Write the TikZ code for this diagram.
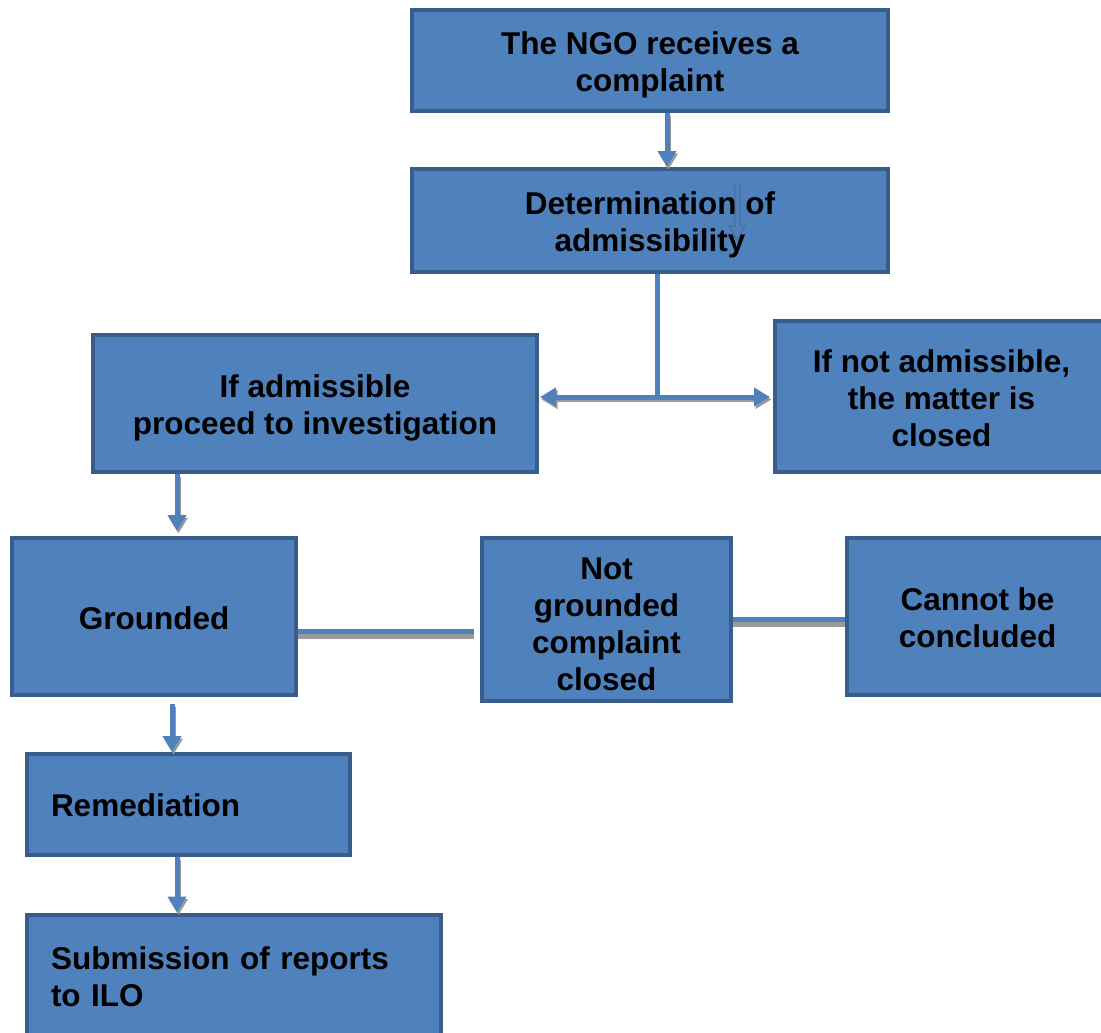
\documentclass[tikz,border=0pt]{standalone}
\usepackage{fontspec}
\setmainfont{Liberation Sans}
\usetikzlibrary{arrows.meta}
\definecolor{fillc}{HTML}{4F81BD}
\definecolor{bdr}{HTML}{385D8A}
\definecolor{shadc}{HTML}{9A9A9A}
\tikzset{
  box/.style={draw=bdr, line width=4pt, fill=fillc, inner sep=0pt, align=center,
    font=\fontsize{31.5}{37}\selectfont\bfseries, text=black, text depth=0pt},
  arr/.style={draw=fillc, line width=5pt, -{Triangle[width=18pt,length=16pt]}},
  conn/.style={draw=fillc, line width=5pt},
  shadarr/.style={draw=shadc, line width=5pt, -{Triangle[width=18pt,length=16pt,fill=shadc]}, transform canvas={shift={(1.5pt,-2.5pt)}}},
}
\begin{document}
\begin{tikzpicture}[x=1pt,y=-1pt]
\useasboundingbox (0,0) rectangle (1101,1033);
\clip (0,0) rectangle (1101,1033);
% boxes
\node[box, minimum width=476pt, minimum height=101pt, text height=63pt] (ngo) at (650,60.5) {The NGO receives a\\complaint};
\node[box, minimum width=476pt, minimum height=103pt, text height=62pt] (det) at (650,220.5) {Determination of\\admissibility};
\node[box, minimum width=444pt, minimum height=137pt, text height=62pt] (adm) at (315,403.5) {If admissible\\proceed to investigation};
\node[box, minimum width=333pt, minimum height=151pt, text height=100pt] (nadm) at (941.5,396.5) {If not admissible,\\the matter is\\closed};
\node[box, minimum width=284pt, minimum height=157pt, text height=25pt] (grd) at (154,616.5) {Grounded};
\node[box, minimum width=249pt, minimum height=163pt, text height=142pt] (ngrd) at (606.5,619.5) {Not\\grounded\\complaint\\closed};
\node[box, minimum width=261pt, minimum height=157pt, text height=62pt] (cbc) at (977.5,616.5) {Cannot be\\concluded};
\node[box, minimum width=323pt, minimum height=101pt, text width=275pt, inner xsep=24pt, align=left, text height=23pt] (rem) at (188.5,804.5) {Remediation};
\node[box, minimum width=414pt, minimum height=124pt, text width=366pt, inner xsep=24pt, align=left, text depth=37pt] (sub) at (234,976.5) {Submission of reports\\to ILO};
% stray thin arrow inside the determination box
\draw[draw=bdr!80!gray, line width=0.6pt] (735,185) -- (735,226) -- (729,226) -- (737,240) -- (745,226) -- (740,226) -- (740,185);
% helper coordinates
\coordinate (xa) at (667,0);
\coordinate (xb) at (657,0);
\coordinate (j) at (657,397);
\coordinate (xc) at (177,0);
\coordinate (xd) at (172,0);
\coordinate (ya) at (0,631.5);
\coordinate (yb) at (0,619.5);
% NGO -> determination
\draw[shadarr] (ngo.south -| xa) -- (det.north -| xa);
\draw[arr] (ngo.south -| xa) -- (det.north -| xa);
% determination -> junction
\draw[conn] (det.south -| xb) -- (j);
% junction -> both sides
\draw[shadarr, shorten >=1pt] (j) -- (adm.east |- j);
\draw[shadarr, shorten >=3pt] (j) -- (nadm.west |- j);
\draw[arr, shorten >=1pt] (j) -- (adm.east |- j);
\draw[arr, shorten >=3pt] (j) -- (nadm.west |- j);
% admissible -> grounded
\draw[shadarr, shorten >=5pt] (adm.south -| xc) -- (grd.north -| xc);
\draw[arr, shorten >=5pt] (adm.south -| xc) -- (grd.north -| xc);
% grounded -- not grounded
\draw[conn, draw=shadc, transform canvas={shift={(0pt,-4.5pt)}}, shorten >=6.5pt] (grd.east |- ya) -- (ngrd.west |- ya);
\draw[conn, shorten >=6.5pt] (grd.east |- ya) -- (ngrd.west |- ya);
% not grounded -- cannot be concluded
\draw[conn, draw=shadc, transform canvas={shift={(0pt,-4.5pt)}}] (ngrd.east |- yb) -- (cbc.west |- yb);
\draw[conn] (ngrd.east |- yb) -- (cbc.west |- yb);
% grounded -> remediation
\draw[shadarr, shorten <=7pt] (grd.south -| xd) -- (rem.north -| xd);
\draw[arr, shorten <=7pt] (grd.south -| xd) -- (rem.north -| xd);
% remediation -> submission
\draw[shadarr] (rem.south -| xc) -- (sub.north -| xc);
\draw[arr] (rem.south -| xc) -- (sub.north -| xc);
\end{tikzpicture}
\end{document}
